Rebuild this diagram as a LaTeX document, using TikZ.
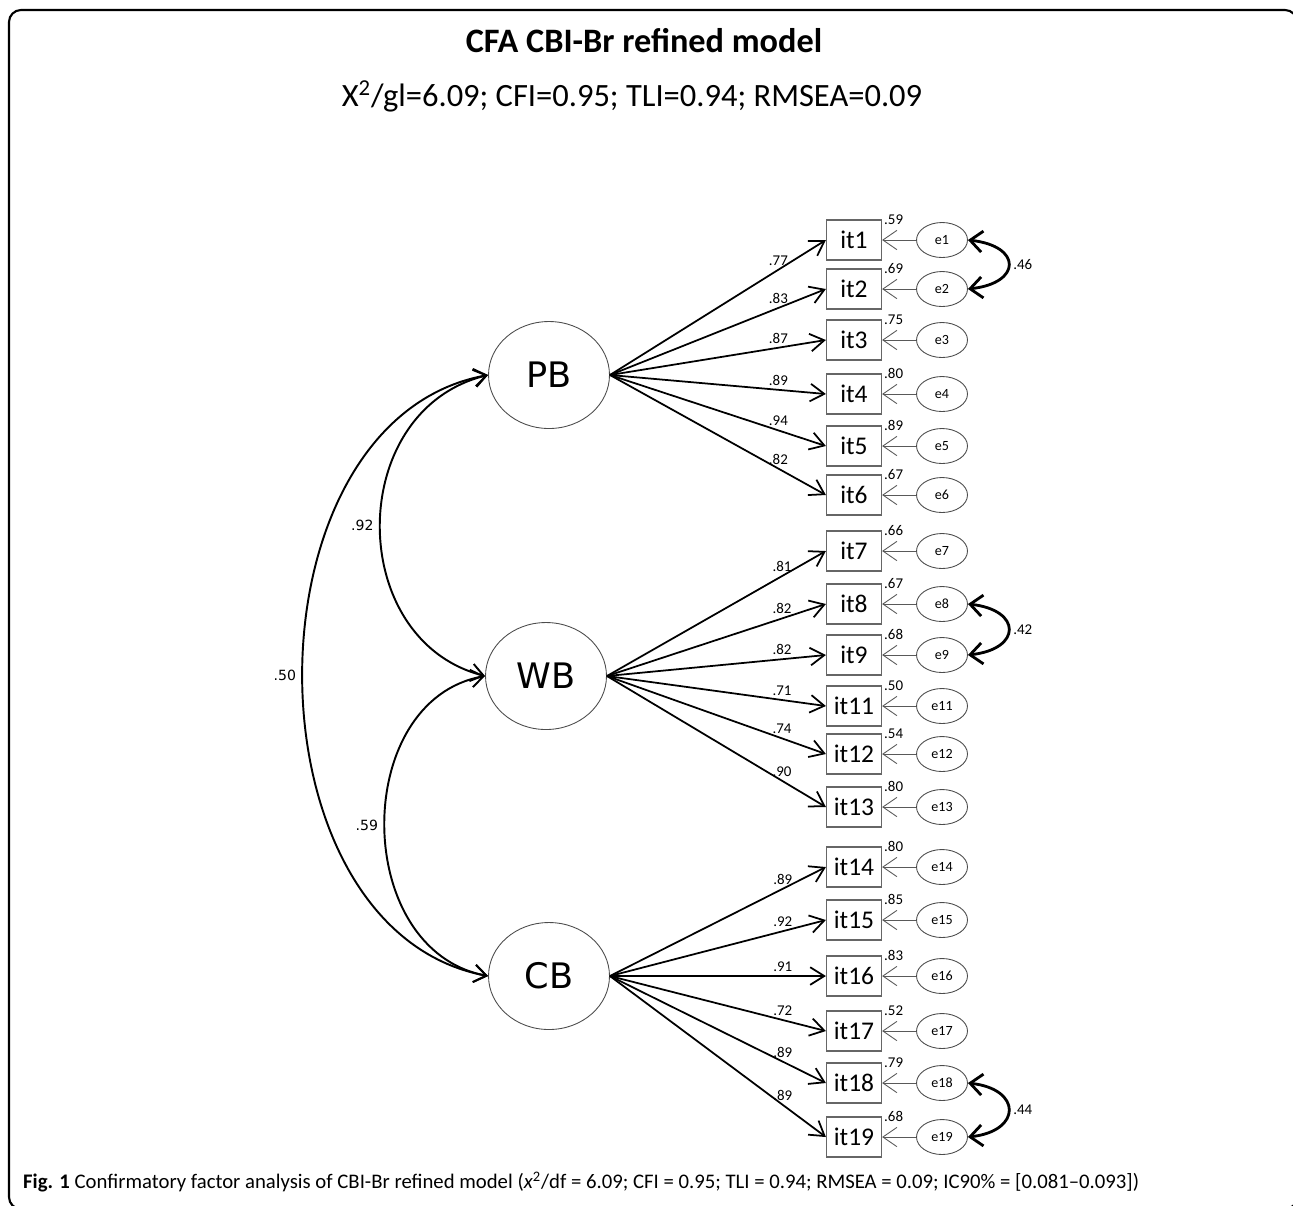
\documentclass[tikz,border=0pt]{standalone}
\usepackage{fontspec}
\setmainfont{Carlito}
\newfontfamily\dejavu{DejaVu Sans}
\usetikzlibrary{shapes.geometric,arrows.meta}

\begin{document}
\begin{tikzpicture}[x=0.02cm,y=-0.02cm,
  latent/.style={ellipse,draw=black!70,line width=0.5pt,minimum width=2.42cm,minimum height=2.14cm,inner sep=0pt,font=\dejavu\fontsize{20}{22}\selectfont},
  item/.style={rectangle,draw=black!60,line width=0.7pt,minimum width=1.1cm,minimum height=0.8cm,inner sep=0pt,font=\fontsize{14.5}{16}\selectfont},
  err/.style={ellipse,draw=black!70,line width=0.5pt,minimum width=1.02cm,minimum height=0.7cm,inner sep=0pt,font=\fontsize{8}{9}\selectfont},
  load/.style={-{Straight Barb[length=8pt,width=10pt]},line width=1pt},
  errarr/.style={-{Straight Barb[length=8pt,width=11pt]},draw=black!65,line width=0.5pt},
  ecov/.style={{Straight Barb[length=7pt,width=12pt]}-{Straight Barb[length=7pt,width=12pt]},line width=1.6pt},
  fcov/.style={{Straight Barb[length=7pt,width=10pt]}-{Straight Barb[length=7pt,width=10pt]},line width=1.1pt},
  lab/.style={font=\fontsize{8.5}{10}\selectfont,inner sep=2pt},
  varlab/.style={font=\fontsize{8.5}{10}\selectfont,inner sep=1pt,anchor=west},
  flab/.style={font=\dejavu\fontsize{8}{10}\selectfont}]
\useasboundingbox (0,0) rectangle (1293,1205);
\draw[line width=1.2pt,rounded corners=0.24cm] (9,10) rectangle (1297,1209);

% title and fit indices
\node[font=\bfseries\fontsize{19.5}{23}\selectfont] (title) at (644,41) {CFA CBI-Br refined model};
\node[font=\fontsize{18.5}{22}\selectfont] (fit) at (632,96) {X\textsuperscript{2}/gl=6.09; CFI=0.95; TLI=0.94; RMSEA=0.09};

% factors
\node[latent] (PB) at (549,375) {PB};
\node[latent] (WB) at (546,676) {WB};
\node[latent] (CB) at (549,976) {CB};

% items and errors
\node[item] (it1) at (854,240) {it1};
\node[item] (it2) at (854,289) {it2};
\node[item] (it3) at (854,340) {it3};
\node[item] (it4) at (854,394) {it4};
\node[item] (it5) at (854,446) {it5};
\node[item] (it6) at (854,495) {it6};
\node[item] (it7) at (854,551) {it7};
\node[item] (it8) at (854,604) {it8};
\node[item] (it9) at (854,655) {it9};
\node[item] (it11) at (854,706) {it11};
\node[item] (it12) at (854,754) {it12};
\node[item] (it13) at (854,807) {it13};
\node[item] (it14) at (854,867) {it14};
\node[item] (it15) at (854,920) {it15};
\node[item] (it16) at (854,976) {it16};
\node[item] (it17) at (854,1031) {it17};
\node[item] (it18) at (854,1083) {it18};
\node[item] (it19) at (854,1137) {it19};

\node[err] (e1) at (942,240) {e1};
\node[err] (e2) at (942,289) {e2};
\node[err] (e3) at (942,340) {e3};
\node[err] (e4) at (942,394) {e4};
\node[err] (e5) at (942,446) {e5};
\node[err] (e6) at (942,495) {e6};
\node[err] (e7) at (942,551) {e7};
\node[err] (e8) at (942,604) {e8};
\node[err] (e9) at (942,655) {e9};
\node[err] (e11) at (942,706) {e11};
\node[err] (e12) at (942,754) {e12};
\node[err] (e13) at (942,807) {e13};
\node[err] (e14) at (942,867) {e14};
\node[err] (e15) at (942,920) {e15};
\node[err] (e16) at (942,976) {e16};
\node[err] (e17) at (942,1031) {e17};
\node[err] (e18) at (942,1083) {e18};
\node[err] (e19) at (942,1137) {e19};

% loadings
\draw[load] (PB.east) -- node[lab,pos=0.78,above] (l1) {.77} (it1.west);
\draw[load] (PB.east) -- node[lab,pos=0.78,above] (l2) {.83} (it2.west);
\draw[load] (PB.east) -- node[lab,pos=0.78,above] (l3) {.87} (it3.west);
\draw[load] (PB.east) -- node[lab,pos=0.78,above] (l4) {.89} (it4.west);
\draw[load] (PB.east) -- node[lab,pos=0.78,above] (l5) {.94} (it5.west);
\draw[load] (PB.east) -- node[lab,pos=0.78,above] (l6) {.82} (it6.west);
\draw[load] (WB.east) -- node[lab,pos=0.8,above] (l7) {.81} (it7.west);
\draw[load] (WB.east) -- node[lab,pos=0.8,above] (l8) {.82} (it8.west);
\draw[load] (WB.east) -- node[lab,pos=0.8,above] (l9) {.82} (it9.west);
\draw[load] (WB.east) -- node[lab,pos=0.8,above] (l11) {.71} (it11.west);
\draw[load] (WB.east) -- node[lab,pos=0.8,above] (l12) {.74} (it12.west);
\draw[load] (WB.east) -- node[lab,pos=0.8,above] (l13) {.90} (it13.west);
\draw[load] (CB.east) -- node[lab,pos=0.8,above] (l14) {.89} (it14.west);
\draw[load] (CB.east) -- node[lab,pos=0.8,above] (l15) {.92} (it15.west);
\draw[load] (CB.east) -- node[lab,pos=0.8,above] (l16) {.91} (it16.west);
\draw[load] (CB.east) -- node[lab,pos=0.8,above] (l17) {.72} (it17.west);
\draw[load] (CB.east) -- node[lab,pos=0.8,above] (l18) {.89} (it18.west);
\draw[load] (CB.east) -- node[lab,pos=0.8,above] (l19) {.89} (it19.west);

% error paths
\draw[errarr] (e1) -- (it1);
\draw[errarr] (e2) -- (it2);
\draw[errarr] (e3) -- (it3);
\draw[errarr] (e4) -- (it4);
\draw[errarr] (e5) -- (it5);
\draw[errarr] (e6) -- (it6);
\draw[errarr] (e7) -- (it7);
\draw[errarr] (e8) -- (it8);
\draw[errarr] (e9) -- (it9);
\draw[errarr] (e11) -- (it11);
\draw[errarr] (e12) -- (it12);
\draw[errarr] (e13) -- (it13);
\draw[errarr] (e14) -- (it14);
\draw[errarr] (e15) -- (it15);
\draw[errarr] (e16) -- (it16);
\draw[errarr] (e17) -- (it17);
\draw[errarr] (e18) -- (it18);
\draw[errarr] (e19) -- (it19);

% explained variance
\node[varlab] (r1) at (it1.north east) {.59};
\node[varlab] (r2) at (it2.north east) {.69};
\node[varlab] (r3) at (it3.north east) {.75};
\node[varlab] (r4) at (it4.north east) {.80};
\node[varlab] (r5) at (it5.north east) {.89};
\node[varlab] (r6) at (it6.north east) {.67};
\node[varlab] (r7) at (it7.north east) {.66};
\node[varlab] (r8) at (it8.north east) {.67};
\node[varlab] (r9) at (it9.north east) {.68};
\node[varlab] (r11) at (it11.north east) {.50};
\node[varlab] (r12) at (it12.north east) {.54};
\node[varlab] (r13) at (it13.north east) {.80};
\node[varlab] (r14) at (it14.north east) {.80};
\node[varlab] (r15) at (it15.north east) {.85};
\node[varlab] (r16) at (it16.north east) {.83};
\node[varlab] (r17) at (it17.north east) {.52};
\node[varlab] (r18) at (it18.north east) {.79};
\node[varlab] (r19) at (it19.north east) {.68};

% error covariances
\draw[ecov] (e1.east) .. controls +(54,6) and +(54,-6) .. node[lab,right] (c12) {.46} (e2.east);
\draw[ecov] (e8.east) .. controls +(54,6) and +(54,-6) .. node[lab,right] (c89) {.42} (e9.east);
\draw[ecov] (e18.east) .. controls +(54,6) and +(54,-6) .. node[lab,right] (c1819) {.44} (e19.east);

% factor covariances
\draw[fcov] (PB.west) .. controls (345,410) and (345,640) .. node[flab,left] (pw) {.92} (WB.west);
\draw[fcov] (PB.west) .. controls (241,420) and (241,930) .. node[flab,left] (pc) {.50} (CB.west);
\draw[fcov] (WB.west) .. controls (351,700) and (351,950) .. node[flab,left] (wc) {.59} (CB.west);

% caption
\node[anchor=west,font=\fontsize{11.8}{14}\selectfont] (caption) at (17,1182) {\textbf{Fig. 1} Confirmatory factor analysis of CBI-Br refined model (\textit{x}\textsuperscript{2}/df = 6.09; CFI = 0.95; TLI = 0.94; RMSEA = 0.09; IC90\% = [0.081--0.093])};
\end{tikzpicture}
\end{document}
